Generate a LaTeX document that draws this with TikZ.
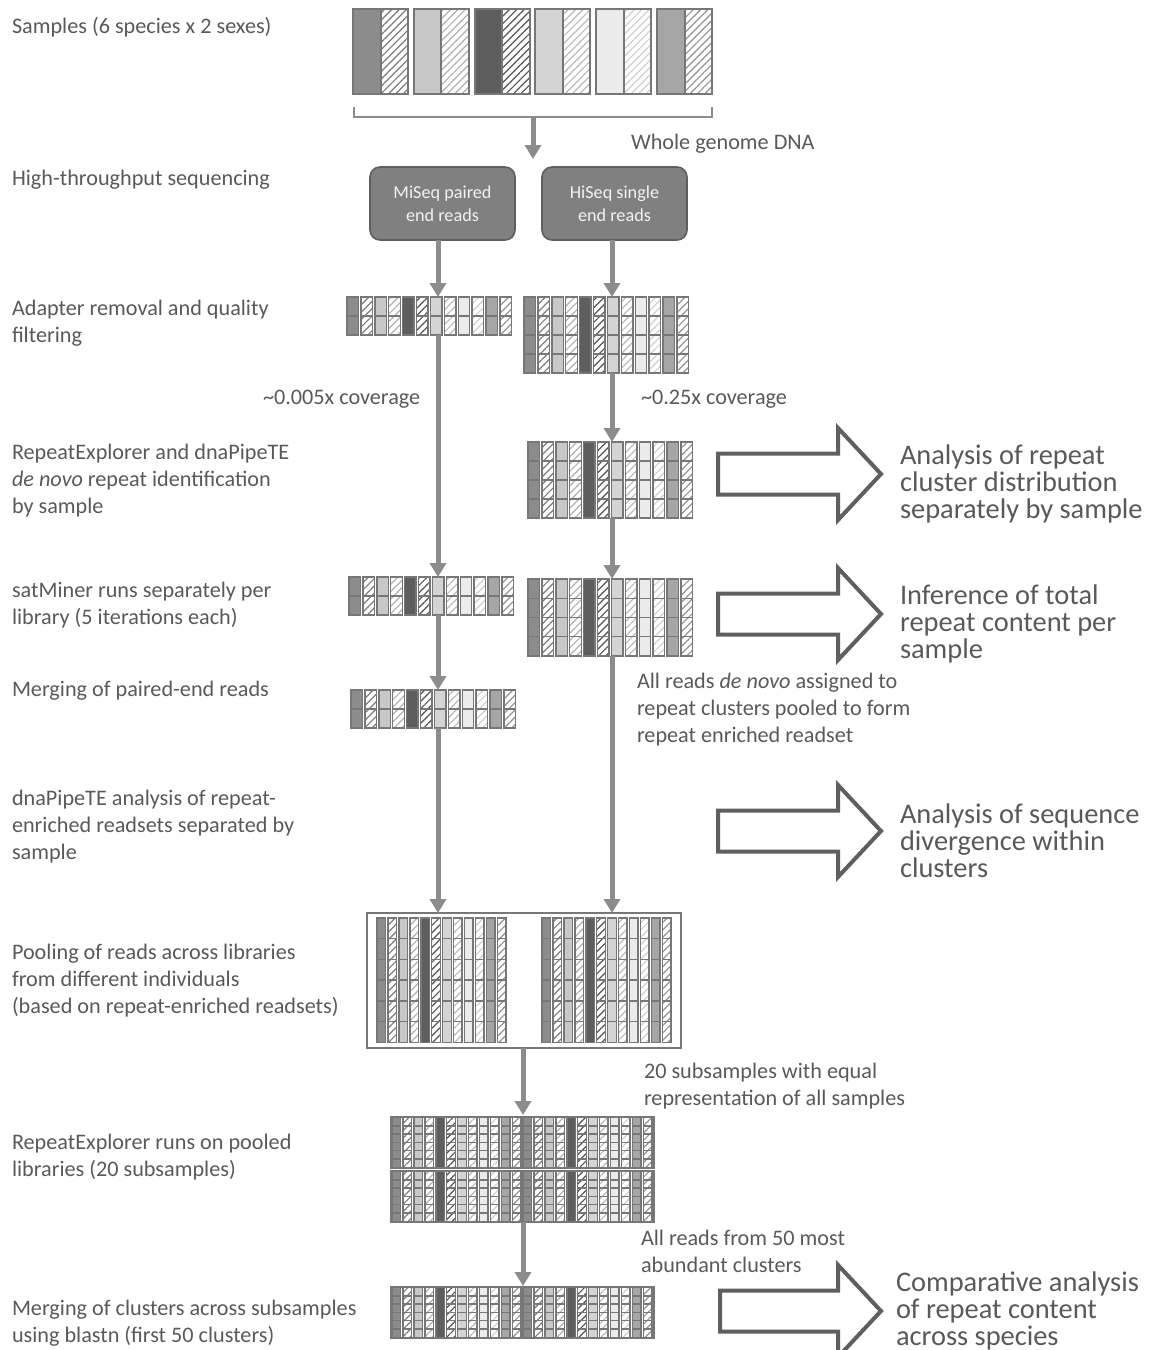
\documentclass[tikz,border=0pt]{standalone}
\usepackage{fontspec}
\setmainfont{Carlito}
\usetikzlibrary{arrows.meta,patterns.meta}

\definecolor{txtgray}{HTML}{595959}
\definecolor{flowgray}{HTML}{8C8C8C}
\definecolor{edgegray}{HTML}{777777}
\definecolor{boxfill}{HTML}{808080}
\definecolor{boxedge}{HTML}{5F5F5F}
\definecolor{spA}{HTML}{8C8C8C}
\definecolor{spB}{HTML}{C8C8C8}
\definecolor{spC}{HTML}{5E5E5E}
\definecolor{spD}{HTML}{D4D4D4}
\definecolor{spE}{HTML}{EBEBEB}
\definecolor{spF}{HTML}{A6A6A6}

\tikzset{
  cell/.style={draw=edgegray, line width=0.7pt},
  hatchcell/.style={pattern={Lines[angle=45,distance=2.6pt,line width=0.6pt]}, pattern color=#1!88!black},
}

% one read set: x, y, column pitch, column width, rows, row height
\newcommand{\readblock}[6]{%
  \foreach \col/\kind [count=\ci from 0] in {spA/0,spA/1,spB/0,spB/1,spC/2,spC/1,spD/0,spD/1,spE/0,spE/1,spF/0,spF/1}{
    \pgfmathsetmacro{\cx}{#1+\ci*#3}
    \ifnum\kind=2\relax
      \draw[cell, fill=\col] (\cx,#2) rectangle ++(#4,#5*#6);
    \else
      \foreach \rw in {1,...,#5}{
        \pgfmathsetmacro{\cy}{#2+(\rw-1)*#6}
        \ifnum\kind=0\relax
          \draw[cell, fill=\col] (\cx,\cy) rectangle ++(#4,#6);
        \else
          \draw[cell, hatchcell=\col] (\cx,\cy) rectangle ++(#4,#6);
        \fi
      }
    \fi
  }
}

% hollow block arrow: left x, centre y
\newcommand{\bigarrowat}[2]{%
  \draw[bigarrow] (#1,#2-20.5) -- (838,#2-20.5) -- (838,#2-46) -- (881,#2)
    -- (838,#2+46) -- (838,#2+20.5) -- (#1,#2+20.5) -- cycle;
}

\begin{document}
\begin{tikzpicture}[x=0.5pt, y=-0.5pt,
  every node/.style={inner sep=0pt, outer sep=0pt},
  lefttext/.style={anchor=base west, align=left, text=txtgray, font={\fontsize{11.1}{13.4}\selectfont}},
  bigtext/.style={anchor=base west, align=left, text=txtgray, font={\fontsize{14.2}{13.5}\selectfont\lineskiplimit=-20pt}},
  readbox/.style={draw=boxedge, fill=boxfill, line width=0.8pt, rounded corners=5pt,
    minimum width=72.5pt, minimum height=36.5pt, align=center, text=white!95!black,
    font={\fontsize{9.1}{11.7}\selectfont}},
  flow/.style={draw=flowgray, line width=2.5pt, -{Triangle[width=8pt,length=7pt]}},
  bracketline/.style={draw=flowgray, line width=1.4pt},
  bigarrow/.style={draw=boxedge, line width=2pt, fill=white, line join=miter},
  poolframe/.style={draw=edgegray, line width=1pt, fill=white},
  sample/.style={draw=edgegray, line width=1pt}]
\useasboundingbox (0,0) rectangle (1151,1350);

% samples
\foreach \sp [count=\k from 0] in {spA,spB,spC,spD,spE,spF}{
  \pgfmathsetmacro{\sx}{353+60.8*\k}
  \draw[sample, fill=\sp] (\sx,9) rectangle ++(27.5,85);
  \draw[sample, hatchcell=\sp] (\sx+27.5,9) rectangle ++(27.5,85);
}
\draw[bracketline] (354,107) -- (354,117) -- (712,117) -- (712,107);
\coordinate (brk) at (533,117);
\coordinate (seqtop) at (533,159);
\draw[flow] (brk) -- (seqtop);

% sequencing
\node[readbox] (miseq) at (442.5,203.5) {MiSeq paired\\end reads};
\node[readbox] (hiseq) at (614.5,203.5) {HiSeq single\\end reads};

% read sets
\readblock{347}{297}{13.9}{11.5}{2}{19}
\readblock{524}{297}{13.9}{11.5}{4}{19}
\readblock{528}{442}{13.9}{11.5}{4}{19}
\readblock{349}{577}{13.9}{11.5}{2}{19}
\readblock{528}{579}{13.9}{11.5}{4}{19.25}
\readblock{351}{690}{13.9}{11.5}{2}{19}

\draw[poolframe] (367,913) rectangle (681,1048);
\readblock{377}{918}{10.95}{8.5}{6}{20.7}
\readblock{542}{918}{10.95}{8.5}{6}{20.7}

\foreach \sy in {1117,1171,1287}{
  \draw[cell, fill=white] (391,\sy) rectangle (654,\sy+51);
  \readblock{392}{\sy+0.5}{10.95}{8.5}{6}{8.3}
  \readblock{523}{\sy+0.5}{10.95}{8.5}{6}{8.3}
}

% connectors
\coordinate (mi1t) at (438,297);
\coordinate (mi1b) at (438,335);
\coordinate (mi2t) at (438,577);
\coordinate (mi2b) at (438,615);
\coordinate (mi3t) at (438,690);
\coordinate (mi3b) at (438,728);
\coordinate (mipool) at (438,913);
\coordinate (hi1t) at (612,297);
\coordinate (hi1b) at (612,373);
\coordinate (hi2t) at (612,442);
\coordinate (hi2b) at (612,518);
\coordinate (hi3t) at (612,579);
\coordinate (hi3b) at (612,656);
\coordinate (hipool) at (612,913);
\coordinate (poolb) at (523,1048);
\coordinate (sub1t) at (523,1115);
\coordinate (sub2b) at (523,1222);
\coordinate (mergt) at (523,1286);

\draw[flow] (miseq.south -| mi1t) -- (mi1t);
\draw[flow] (mi1b) -- (mi2t);
\draw[flow] (mi2b) -- (mi3t);
\draw[flow] (mi3b) -- (mipool);
\draw[flow] (hiseq.south -| hi1t) -- (hi1t);
\draw[flow] (hi1b) -- (hi2t);
\draw[flow] (hi2b) -- (hi3t);
\draw[flow] (hi3b) -- (hipool);
\draw[flow] (poolb) -- (sub1t);
\draw[flow] (sub2b) -- (mergt);

% block arrows
\bigarrowat{718}{474}
\bigarrowat{718}{614}
\bigarrowat{718}{831}
\bigarrowat{720}{1311}

% step labels (base = last line)
\node[lefttext] (t-samples) at (12,33) {Samples (6 species x 2 sexes)};
\node[lefttext] (t-hts) at (12,185) {High-throughput sequencing};
\node[lefttext] (t-adapt) at (12,342) {Adapter removal and quality\\filtering};
\node[lefttext] (t-rexp) at (12,513) {RepeatExplorer and dnaPipeTE\\\textit{de novo} repeat identification\\by sample};
\node[lefttext] (t-satm) at (12,624) {satMiner runs separately per\\library (5 iterations each)};
\node[lefttext] (t-merge) at (12,696) {Merging of paired-end reads};
\node[lefttext] (t-dnap) at (12,859) {dnaPipeTE analysis of repeat-\\enriched readsets separated by\\sample};
\node[lefttext] (t-pool) at (12,1013) {Pooling of reads across libraries\\from different individuals\\(based on repeat-enriched readsets)};
\node[lefttext] (t-rerun) at (12,1176) {RepeatExplorer runs on pooled\\libraries (20 subsamples)};
\node[lefttext] (t-blast) at (12,1342) {Merging of clusters across subsamples\\using blastn (first 50 clusters)};

% notes
\node[lefttext] (t-wgd) at (631,149) {Whole genome DNA};
\node[lefttext] (t-cov1) at (263,404) {\textasciitilde 0.005x coverage};
\node[lefttext] (t-cov2) at (641,404) {\textasciitilde 0.25x coverage};
\node[lefttext] (t-enrich) at (637,742) {All reads \textit{de novo} assigned to\\repeat clusters pooled to form\\repeat enriched readset};
\node[lefttext] (t-subs) at (644,1105) {20 subsamples with equal\\representation of all samples};
\node[lefttext] (t-top50) at (641,1272) {All reads from 50 most\\abundant clusters};

% outcomes
\node[bigtext] (r-dist) at (900,518) {Analysis of repeat\\cluster distribution\\separately by sample};
\node[bigtext] (r-total) at (900,658) {Inference of total\\repeat content per\\sample};
\node[bigtext] (r-div) at (900,877) {Analysis of sequence\\divergence within\\clusters};
\node[bigtext] (r-comp) at (896,1345) {Comparative analysis\\of repeat content\\across species};
\end{tikzpicture}
\end{document}
